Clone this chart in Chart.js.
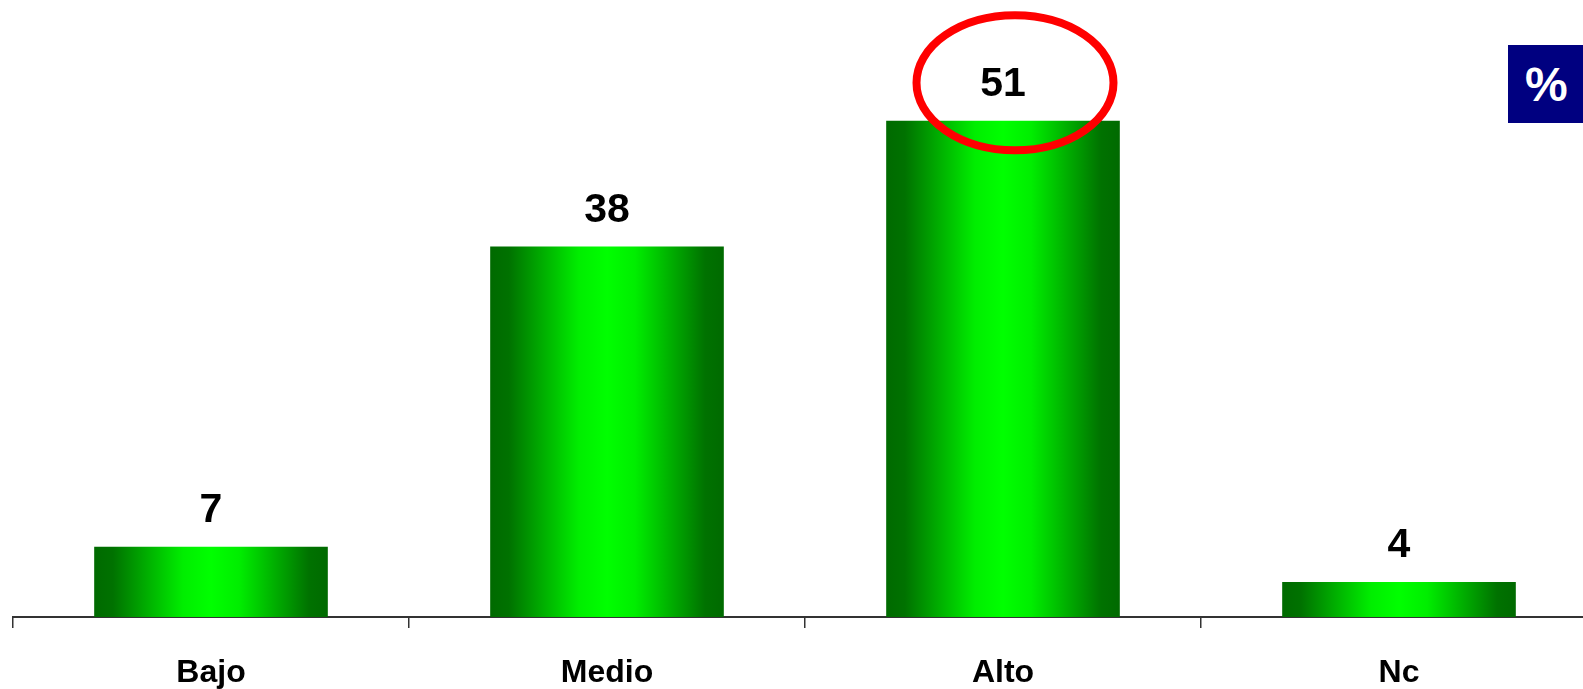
<!DOCTYPE html>
<html>
<head>
<meta charset="utf-8">
<script src="https://cdn.jsdelivr.net/npm/chart.js@4.4.0/dist/chart.umd.min.js"></script>
<style>
  html, body { margin: 0; padding: 0; background: #ffffff; overflow: hidden; width: 1583px; height: 689px; }
  #wrap { position: absolute; left: 0; top: 0; width: 1610px; height: 689px; }
  #pct { position: absolute; left: 1508px; top: 45px; width: 80px; height: 78px; background: #000080;
         color: #ffffff; font: bold 48px "Liberation Sans", Arial, sans-serif; line-height: 80px; text-align: left; padding-left: 17px; box-sizing: border-box; }
</style>
</head>
<body>
<div id="wrap"><canvas id="c" width="1610" height="689"></canvas></div>
<div id="pct">%</div>
<script>
// Data
const categories = ["Bajo", "Medio", "Alto", "Nc"];
const values = [7.2, 38, 50.9, 3.6];        // bar heights
const valueLabels = ["7", "38", "51", "4"];  // printed labels
const yMin = 0;
const yMax = 60;
const highlightIndex = 2;

const BAR_PCT = 0.59;

function barGradient(ctx) {
  const chart = ctx.chart;
  const xs = chart.scales && chart.scales.x;
  if (!xs || !chart.chartArea) return '#00cc00';
  const cx = xs.getPixelForValue(ctx.dataIndex);
  const w = xs.width / categories.length * BAR_PCT;
  const g = chart.ctx.createLinearGradient(cx - w / 2, 0, cx + w / 2, 0);
  g.addColorStop(0, '#006a00');
  g.addColorStop(0.08, '#007200');
  g.addColorStop(0.38, '#00ee00');
  g.addColorStop(0.5, '#00ff00');
  g.addColorStop(0.62, '#00ee00');
  g.addColorStop(0.92, '#007200');
  g.addColorStop(1, '#006a00');
  return g;
}

const labelPlugin = {
  id: 'valueLabels',
  afterDatasetsDraw(chart) {
    const c = chart.ctx;
    const meta = chart.getDatasetMeta(0);
    c.save();
    c.font = 'bold 41px "Liberation Sans", Arial, sans-serif';
    c.fillStyle = '#000000';
    c.textAlign = 'center';
    c.textBaseline = 'alphabetic';
    meta.data.forEach((el, i) => {
      c.fillText(valueLabels[i], el.x, el.y - 25);
    });
    // highlight ellipse
    const el = meta.data[highlightIndex];
    c.beginPath();
    c.ellipse(el.x + 12, el.y - 38, 98.5, 67.5, 0, 0, Math.PI * 2);
    c.strokeStyle = '#ff0000';
    c.lineWidth = 8;
    c.stroke();
    c.restore();
  }
};

new Chart(document.getElementById('c'), {
  type: 'bar',
  data: {
    labels: categories,
    datasets: [{
      data: values,
      backgroundColor: barGradient,
      borderWidth: 0,
      barPercentage: BAR_PCT,
      categoryPercentage: 1.0
    }]
  },
  options: {
    responsive: false,
    animation: false,
    events: [],
    layout: { padding: { left: 13, right: 13, top: 32, bottom: 0 } },
    plugins: { legend: { display: false }, tooltip: { enabled: false } },
    scales: {
      x: {
        offset: true,
        grid: { display: true, drawOnChartArea: false, drawTicks: true, tickLength: 11, color: '#333333', lineWidth: 1.5, offset: true },
        border: { display: true, color: '#333333', width: 2 },
        ticks: { color: '#000000', font: { family: '"Liberation Sans", Arial, sans-serif', size: 32, weight: 'bold' }, padding: 26, maxRotation: 0 },
        afterFit(scale) { scale.height = 72; }
      },
      y: {
        display: false,
        min: yMin,
        max: yMax
      }
    }
  },
  plugins: [labelPlugin]
});
</script>
</body>
</html>
